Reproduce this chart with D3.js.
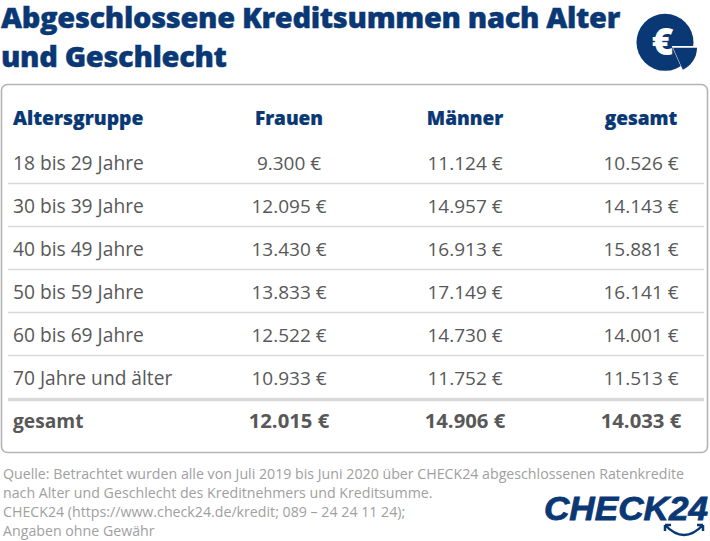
<!DOCTYPE html>
<html>
<head>
<meta charset="utf-8">
<script src="https://cdn.jsdelivr.net/npm/d3@7"></script>
<style>
body { margin: 0; background: #fff; }
text { font-family: "Open Sans", sans-serif; }
</style>
</head>
<body>
<svg id="chart"></svg>
<script>
const width = 710;
const height = 541;
const navy = "#0a3875";
const grey = "#585858";

const titleLines = ["Abgeschlossene Kreditsummen nach Alter", "und Geschlecht"];
const columns = ["Altersgruppe", "Frauen", "Männer", "gesamt"];
const ageGroups = ["18 bis 29 Jahre", "30 bis 39 Jahre", "40 bis 49 Jahre", "50 bis 59 Jahre", "60 bis 69 Jahre", "70 Jahre und älter"];
const frauen = ["9.300 €", "12.095 €", "13.430 €", "13.833 €", "12.522 €", "10.933 €"];
const maenner = ["11.124 €", "14.957 €", "16.913 €", "17.149 €", "14.730 €", "11.752 €"];
const gesamt = ["10.526 €", "14.143 €", "15.881 €", "16.141 €", "14.001 €", "11.513 €"];
const totals = ["gesamt", "12.015 €", "14.906 €", "14.033 €"];
const sourceLines = [
    "Quelle: Betrachtet wurden alle von Juli 2019 bis Juni 2020 über CHECK24 abgeschlossenen Ratenkredite",
    "nach Alter und Geschlecht des Kreditnehmers und Kreditsumme.",
    "CHECK24 (https://www.check24.de/kredit; 089 – 24 24 11 24);",
    "Angaben ohne Gewähr"
];

const svg = d3.select("#chart").attr("width", width).attr("height", height);

// Title
svg.selectAll(".title")
    .data(titleLines)
    .enter().append("text")
    .attr("class", "title")
    .attr("x", 1)
    .attr("y", (d, i) => 28 + i * 39)
    .attr("fill", navy)
    .attr("stroke", navy)
    .attr("stroke-width", 0.4)
    .style("font-size", "29px")
    .style("font-weight", 800)
    .style("letter-spacing", "-0.33px")
    .text(d => d);

// Table frame
svg.append("rect")
    .attr("x", 1.5).attr("y", 84.5)
    .attr("width", 706).attr("height", 368)
    .attr("rx", 6)
    .attr("fill", "#fff")
    .attr("stroke", "#b4b4b4")
    .attr("stroke-width", 1.6);

// Row and column scales
const rowKeys = [...ageGroups, "total"];
const headerY = 125;
const y = d3.scalePoint().domain(rowKeys).range([170, 428]);
const x = d3.scalePoint().domain(columns.slice(1)).range([289, 641]);

const g = svg.append("g");

// Separator lines sit below each age row
g.selectAll(".rule")
    .data(ageGroups)
    .enter().append("line")
    .attr("x1", 8).attr("x2", 704)
    .attr("y1", (d, i) => y(d) + (i === ageGroups.length - 1 ? 14.5 : 13.5))
    .attr("y2", (d, i) => y(d) + (i === ageGroups.length - 1 ? 14.5 : 13.5))
    .attr("stroke", "#d9d9d9")
    .attr("stroke-width", (d, i) => i === ageGroups.length - 1 ? 3.5 : 1.6);

// Header
g.append("text")
    .attr("x", 13).attr("y", headerY)
    .attr("fill", navy)
    .attr("stroke", navy)
    .attr("stroke-width", 0.2)
    .style("font-size", "19.3px").style("font-weight", 800)
    .text(columns[0]);

g.selectAll(".head")
    .data(columns.slice(1))
    .enter().append("text")
    .attr("class", "head")
    .attr("x", d => x(d)).attr("y", headerY)
    .attr("text-anchor", "middle")
    .attr("fill", navy)
    .attr("stroke", navy)
    .attr("stroke-width", 0.2)
    .style("font-size", "19px").style("font-weight", 800)
    .text(d => d);

// Body rows
g.selectAll(".age")
    .data(ageGroups)
    .enter().append("text")
    .attr("class", "age")
    .attr("x", 13).attr("y", d => y(d))
    .attr("fill", grey)
    .style("font-size", "19.2px")
    .text(d => d);

[frauen, maenner, gesamt].forEach((values, c) => {
    g.selectAll(".col" + c)
        .data(values)
        .enter().append("text")
        .attr("class", "col" + c)
        .attr("x", x(columns[c + 1]))
        .attr("y", (d, i) => y(ageGroups[i]))
        .attr("text-anchor", "middle")
        .attr("fill", grey)
        .style("font-size", "19px")
        .text(d => d);
});

// Total row
g.selectAll(".total")
    .data(totals)
    .enter().append("text")
    .attr("class", "total")
    .attr("x", (d, i) => i === 0 ? 13 : x(columns[i]))
    .attr("y", y("total"))
    .attr("text-anchor", (d, i) => i === 0 ? "start" : "middle")
    .attr("fill", grey)
    .style("font-size", (d, i) => i === 0 ? "19.2px" : "20.3px")
    .style("font-weight", 700)
    .text(d => d);

// Source note
svg.selectAll(".source")
    .data(sourceLines)
    .enter().append("text")
    .attr("class", "source")
    .attr("x", 3)
    .attr("y", (d, i) => 478.5 + i * 19)
    .attr("fill", "#a0a0a0")
    .style("font-size", "14.2px")
    .text(d => d);

// Euro pie icon
const icon = svg.append("g").attr("transform", "translate(665,42.3)");
const arc = d3.arc();
icon.append("circle").attr("r", 28.5).attr("fill", navy);
icon.append("path")
    .attr("fill", "#fff")
    .attr("transform", "translate(6.7,3.7)")
    .attr("d", arc({ innerRadius: 0, outerRadius: 34, startAngle: Math.PI / 2, endAngle: 2.72 }));
icon.append("path")
    .attr("fill", navy)
    .attr("transform", "translate(8,5.5)")
    .attr("d", arc({ innerRadius: 0, outerRadius: 24, startAngle: Math.PI / 2, endAngle: 2.72 }));
icon.append("text")
    .attr("x", -2.5).attr("y", 13)
    .attr("text-anchor", "middle")
    .attr("fill", "#fff")
    .style("font-size", "37px").style("font-weight", 800)
    .text("€");

// CHECK24 logo
const logo = svg.append("g");
logo.append("text")
    .attr("x", 544).attr("y", 520)
    .attr("textLength", 164)
    .attr("lengthAdjust", "spacingAndGlyphs")
    .attr("fill", navy)
    .attr("stroke", navy)
    .attr("stroke-width", 0.8)
    .style("font-family", "Liberation Sans")
    .style("font-size", "33px")
    .style("font-weight", 700)
    .style("font-style", "italic")
    .text("CHECK24");
logo.append("path")
    .attr("fill", "none")
    .attr("stroke", navy)
    .attr("stroke-width", 2.5)
    .attr("d", "M665,525 Q684,545 703,525 M665,525 l0,6 M665,525 l6,0 M703,525 l0,6 M703,525 l-6,0");
</script>
</body>
</html>
